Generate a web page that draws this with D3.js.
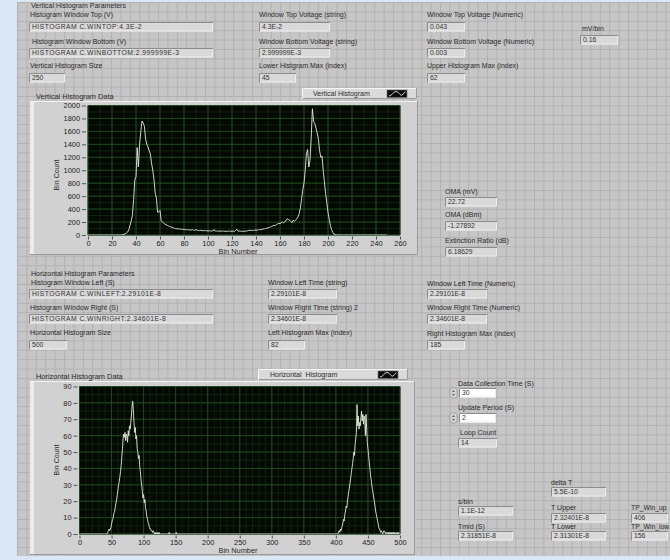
<!DOCTYPE html>
<html>
<head>
<meta charset="utf-8">
<script src="https://cdn.jsdelivr.net/npm/d3@7"></script>
<style>
  html, body { margin: 0; padding: 0; background: #dae7f7; }
  svg { display: block; font-family: "Liberation Sans", Arial, sans-serif; }
</style>
</head>
<body>
<svg id="panel" width="670" height="560"></svg>
<script>
// ---- Vertical histogram: counts per bin (bins 0..249) ----
const verticalBins = [
  0,0,0,0,0,0,0,0,0,0,0,0,0,0,0,0,0,0,0,0,
  0,0,0,0,0,0,0,0,2,4,10,18,30,45,80,150,220,300,550,850,
  900,1350,1050,1400,1600,1760,1730,1680,1480,1400,1360,1300,1250,1100,1000,850,650,570,350,360,
  380,220,200,185,170,160,150,140,130,125,118,110,105,100,95,100,90,92,88,85,
  90,82,80,85,78,80,75,82,76,70,88,72,70,68,75,65,70,66,68,65,
  62,66,64,60,62,85,60,62,58,60,62,58,60,62,58,55,60,58,62,56,
  58,60,55,70,90,60,62,58,60,55,58,62,60,65,70,75,68,72,70,75,
  78,72,80,85,82,88,92,95,100,105,110,115,125,130,140,150,145,160,170,180,
  175,190,200,185,210,220,250,240,230,210,190,230,210,230,250,280,330,420,560,700,
  800,1000,1250,1320,1050,1150,1500,1950,1750,1720,1650,1580,1480,1300,1200,1220,1000,820,640,500,
  350,240,150,80,40,15,6,3,1,0,0,0,0,0,0,0,0,0,0,0,
  0,0,0,0,0,0,0,0,0,0,0,0,0,0,0,0,0,0,0,0,
  0,0,0,0,0,0,0,0,0,0
];
const verticalXTicks = [0,20,40,60,80,100,120,140,160,180,200,220,240,260];
const verticalYTicks = [0,200,400,600,800,1000,1200,1400,1600,1800,2000];

// ---- Horizontal histogram: counts per bin (bins 0..499) ----
const horizontalBins = [
  0,0,0,0,0,0,0,0,0,0,0,0,0,0,0,0,0,0,0,0,
  0,0,0,0,0,0,0,0,0,0,0,0,0,0,0,0,0,0,0,0,
  0,0,0,0,1,2,3,2,3,4,6,8,9,11,13,14,17,19,21,24,
  27,30,32,35,38,42,47,52,58,61,59,62,57,61,60,56,63,60,66,64,
  68,72,78,81,76,68,62,65,58,60,52,50,46,48,41,38,33,30,26,22,
  24,19,21,16,14,11,9,7,6,4,3,3,2,2,1,2,1,0,1,0,
  0,1,0,0,1,0,0,0,0,0,0,0,0,0,0,0,0,0,0,0,
  1,0,0,0,0,0,0,0,0,0,0,1,0,0,0,0,0,0,0,0,
  0,0,0,0,0,0,0,0,0,0,0,0,0,0,0,0,0,0,0,0,
  0,0,0,0,0,0,0,0,0,0,0,0,0,0,0,0,0,0,0,0,
  0,0,0,0,0,0,0,0,0,0,0,0,0,0,0,0,0,0,0,0,
  0,0,0,0,0,0,0,0,0,0,0,0,0,0,0,0,0,0,0,0,
  0,0,0,0,0,0,0,0,0,0,0,0,0,0,0,0,0,0,0,0,
  0,0,0,0,0,0,0,0,0,0,0,0,0,0,0,0,0,0,0,0,
  0,0,0,0,0,0,0,0,0,0,0,0,0,0,0,0,0,0,0,0,
  0,0,0,0,0,0,0,0,0,0,0,0,0,0,0,0,0,0,0,0,
  0,0,0,0,0,0,0,0,0,0,0,0,0,0,0,0,0,0,0,0,
  0,0,0,0,0,0,0,0,0,0,0,0,0,0,0,0,0,0,0,0,
  0,0,0,0,0,0,0,0,0,0,0,0,0,0,0,0,0,0,0,0,
  0,0,0,0,0,0,0,0,0,0,0,0,0,0,0,0,0,0,0,0,
  0,0,0,0,1,2,1,3,2,4,5,7,9,8,12,14,17,16,20,23,
  26,28,31,34,37,40,43,46,50,48,55,58,62,79,66,72,64,68,66,71,
  75,69,73,67,72,70,60,73,64,56,52,48,44,40,36,33,30,27,25,22,
  20,17,14,12,10,8,6,4,3,2,1,2,1,0,1,2,1,1,0,1,
  1,0,1,0,1,0,1,0,1,0,1,0,1,0,0,1,0,1,0,1
];
const horizontalXTicks = [0,50,100,150,200,250,300,350,400,450,500];
const horizontalYTicks = [0,10,20,30,40,50,60,70,80,90];

// ---- front panel indicator readings ----
const vertParamValues = ["HISTOGRAM C.WINTOP:4.3E-2", "HISTOGRAM C.WINBOTTOM:2.999999E-3", "250"];
const vertStringValues = ["4.3E-2", "2.999999E-3", "45"];
const vertNumericValues = ["0.043", "0.003", "62"];
const mvPerBin = "0.16";
const omaValues = ["22.72", "-1.27892", "6.18629"];
const horParamValues = ["HISTOGRAM C.WINLEFT:2.29101E-8", "HISTOGRAM C.WINRIGHT:2.34601E-8", "500"];
const horStringValues = ["2.29101E-8", "2.34601E-8", "82"];
const horNumericValues = ["2.29101E-8", "2.34601E-8", "185"];
const loopValues = ["30", "2", "14"];
const timingValues = { deltaT: "5.5E-10", sPerBin: "1.1E-12", tUpper: "2.32401E-8", tLower: "2.31301E-8", tMid: "2.31851E-8", winUp: "406", winLow: "156" };

const W = 670, H = 560;
const svg = d3.select("#panel");
const defs = svg.append("defs");

// panel background with its alignment grid
const grid = defs.append("pattern").attr("id", "panelGrid")
  .attr("patternUnits", "userSpaceOnUse").attr("x", 17).attr("y", 2)
  .attr("width", 9.4).attr("height", 9.4);
grid.append("rect").attr("width", 9.4).attr("height", 9.4).attr("fill", "#c6c6c6");
grid.append("path").attr("d", "M0,0.5H9.4M0.5,0V9.4")
  .attr("stroke", "#b2b2b2").attr("stroke-width", 1).attr("fill", "none");

svg.append("rect").attr("width", W).attr("height", H).attr("fill", "#dae7f7");
svg.append("rect").attr("x", 17).attr("y", 2).attr("width", W - 17).attr("height", 554)
  .attr("fill", "url(#panelGrid)");

const txtColor = "#2a2a2a";

function label(x, y, s, size) {
  svg.append("text").attr("x", x).attr("y", y + 2.4)
    .attr("font-size", size || 7).attr("fill", txtColor).text(s);
}

function box(x, y, w, value, opts) {
  opts = opts || {};
  const h = 9.5;
  const g = svg.append("g");
  g.append("rect").attr("x", x).attr("y", y).attr("width", w).attr("height", h)
    .attr("fill", opts.white ? "#ffffff" : "#d9d9d9");
  // inset edges
  g.append("path").attr("d", `M${x + 0.5},${y + h}V${y + 0.5}H${x + w}`)
    .attr("stroke", "#8c8c8c").attr("fill", "none");
  g.append("path").attr("d", `M${x + 1},${y + h - 0.5}H${x + w - 0.5}V${y + 1}`)
    .attr("stroke", "#eeeeee").attr("fill", "none");
  g.append("text").attr("x", x + 3).attr("y", y + 7.2)
    .attr("font-size", 6.8).attr("fill", "#333")
    .attr("letter-spacing", /[A-Z]{4}/.test(value) ? 0.45 : 0)
    .text(value);
}

function spinner(x, y) {
  const g = svg.append("g");
  g.append("rect").attr("x", x).attr("y", y).attr("width", 7).attr("height", 10).attr("rx", 2.5)
    .attr("fill", "#d4d4d4").attr("stroke", "#8a8a8a").attr("stroke-width", 0.6);
  g.append("path").attr("d", `M${x + 2},${y + 4}L${x + 3.5},${y + 2}L${x + 5},${y + 4}Z`).attr("fill", "#666");
  g.append("path").attr("d", `M${x + 2},${y + 6}L${x + 3.5},${y + 8}L${x + 5},${y + 6}Z`).attr("fill", "#666");
}

// ---- vertical histogram parameter block ----
label(31, 6, "Vertical Histogram Parameters");
label(30, 15, "Histogram Window Top (V)");
box(29, 22, 184, vertParamValues[0]);
label(32, 42, "Histogram Window Bottom (V)");
box(29, 48, 184, vertParamValues[1]);
label(30, 66, "Vertical Histogram Size");
box(29, 73, 36, vertParamValues[2]);

label(259, 15, "Window Top Voltage (string)");
box(259, 22, 71, vertStringValues[0]);
label(259, 42, "Window Bottom Voltage (string)");
box(259, 48, 71, vertStringValues[1]);
label(259, 66, "Lower Histgram Max (index)");
box(259, 73, 37, vertStringValues[2]);

label(427, 15, "Window Top Voltage (Numeric)");
box(427, 22, 38, vertNumericValues[0]);
label(427, 42, "Window Bottom Voltage (Numeric)");
box(427, 48, 38, vertNumericValues[1]);
label(427, 66, "Upper Histogram Max (index)");
box(427, 73, 38, vertNumericValues[2]);

label(582, 29, "mV/bin");
box(580, 35, 38, mvPerBin);

label(445, 192, "OMA (mV)");
box(445, 197, 52, omaValues[0]);
label(445, 215, "OMA (dBm)");
box(445, 221, 52, omaValues[1]);
label(445, 241, "Extinction Ratio (dB)");
box(445, 247, 52, omaValues[2]);

// ---- horizontal histogram parameter block ----
label(31, 274, "Horizontal Histogram Parameters");
label(31, 283, "Histogram Window Left (S)");
box(29, 289, 184, horParamValues[0]);
label(30, 308, "Histogram Window Right (S)");
box(29, 314, 184, horParamValues[1]);
label(30, 333, "Horizontal Histogram Size");
box(29, 340, 38, horParamValues[2]);

label(268, 283, "Window Left Time (string)");
box(268, 289, 69, horStringValues[0]);
label(268, 308, "Window Right Time (string) 2");
box(268, 314, 69, horStringValues[1]);
label(268, 333, "Left Histogram Max (index)");
box(268, 340, 37, horStringValues[2]);

label(427, 284, "Window Left Time (Numeric)");
box(427, 289, 60, horNumericValues[0]);
label(427, 308, "Window Right Time (Numeric)");
box(427, 314, 60, horNumericValues[1]);
label(427, 334, "Right Histogram Max (index)");
box(427, 340, 38, horNumericValues[2]);

// ---- acquisition controls ----
label(458, 384, "Data Collection Time (S)");
spinner(450, 388);
box(459, 388, 37, loopValues[0], { white: true });
label(458, 408, "Update Period (S)");
spinner(450, 413);
box(459, 413, 37, loopValues[1], { white: true });
label(460, 433, "Loop Count");
box(458, 438, 39, loopValues[2]);

label(551, 483, "delta T");
box(551, 487, 55, timingValues.deltaT);
label(458, 502, "s/bin");
box(458, 506, 55, timingValues.sPerBin);
label(551, 508, "T Upper");
box(551, 513, 55, timingValues.tUpper);
label(631, 508, "TP_Win_up", 6.8);
box(631, 513, 37, timingValues.winUp);
label(458, 527, "Tmid (S)");
box(458, 531, 55, timingValues.tMid);
label(551, 527, "T Lower");
box(551, 531, 55, timingValues.tLower);
label(631, 527, "TP_Win_low", 6.8);
box(631, 531, 37, timingValues.winLow);

// ---- waveform graph ----
function graph(cfg) {
  const g = svg.append("g");
  const f = cfg.frame;
  // graph frame with raised edges
  g.append("rect").attr("x", f.x).attr("y", f.y).attr("width", f.w).attr("height", f.h).attr("fill", "#d1d1d1");
  g.append("rect").attr("x", f.x).attr("y", f.y).attr("width", 4).attr("height", f.h).attr("fill", "#ececec");
  g.append("path").attr("d", `M${f.x},${f.y + 0.5}H${f.x + f.w}`).attr("stroke", "#f2f2f2").attr("fill", "none");
  g.append("path").attr("d", `M${f.x},${f.y + f.h - 0.5}H${f.x + f.w - 0.5}V${f.y}`).attr("stroke", "#9a9a9a").attr("fill", "none");

  // caption
  g.append("text").attr("x", cfg.title.x).attr("y", cfg.title.y + 2.6)
    .attr("font-size", 7.4).attr("fill", txtColor).text(cfg.title.text);

  // plot legend
  const L = cfg.legend;
  g.append("rect").attr("x", L.x).attr("y", L.y).attr("width", L.w).attr("height", 11).attr("fill", "#dadada");
  g.append("path").attr("d", `M${L.x + 0.5},${L.y + 11}V${L.y + 0.5}H${L.x + L.w}`).attr("stroke", "#f6f6f6").attr("fill", "none");
  g.append("path").attr("d", `M${L.x + 1},${L.y + 10.5}H${L.x + L.w - 0.5}V${L.y}`).attr("stroke", "#9c9c9c").attr("fill", "none");
  g.append("text").attr("x", L.tx).attr("y", L.y + 8).attr("font-size", 7).attr("fill", txtColor)
    .attr("xml:space", "preserve").text(L.text);
  const ix = L.x + L.w - 30, iy = L.y + 2;
  g.append("rect").attr("x", ix).attr("y", iy).attr("width", 20).attr("height", 7.5)
    .attr("fill", "#0c0c0c").attr("stroke", "#6a6a6a").attr("stroke-width", 0.6);
  g.append("path").attr("d", `M${ix + 2},${iy + 6} C${ix + 5},${iy + 6} ${ix + 6},${iy + 1.5} ${ix + 9},${iy + 1.5} S${ix + 13},${iy + 6} ${ix + 15},${iy + 5} S${ix + 17},${iy + 2} ${ix + 18.5},${iy + 2}`)
    .attr("stroke", "#e8e8e8").attr("stroke-width", 0.9).attr("fill", "none");

  const p = cfg.plot;
  const x = d3.scaleLinear().domain(cfg.xDomain).range([p.x0, p.x1]);
  const y = d3.scaleLinear().domain(cfg.yDomain).range([p.y1, p.y0]);

  g.append("rect").attr("x", p.x0).attr("y", p.y0).attr("width", p.x1 - p.x0).attr("height", p.y1 - p.y0)
    .attr("fill", "#040904");

  // minor then major grid
  const minorX = d3.range(cfg.xDomain[0], cfg.xDomain[1] + 1e-9, cfg.xMinor);
  const minorY = d3.range(cfg.yDomain[0], cfg.yDomain[1] + 1e-9, cfg.yMinor);
  g.append("g").selectAll("line").data(minorX).join("line")
    .attr("x1", d => x(d)).attr("x2", d => x(d)).attr("y1", p.y0).attr("y2", p.y1)
    .attr("stroke", "#112a11").attr("stroke-width", 0.8);
  g.append("g").selectAll("line").data(minorY).join("line")
    .attr("x1", p.x0).attr("x2", p.x1).attr("y1", d => y(d)).attr("y2", d => y(d))
    .attr("stroke", "#112a11").attr("stroke-width", 0.8);
  g.append("g").selectAll("line").data(cfg.xTicks).join("line")
    .attr("x1", d => x(d)).attr("x2", d => x(d)).attr("y1", p.y0).attr("y2", p.y1)
    .attr("stroke", "#1f4d1f").attr("stroke-width", 0.9);
  g.append("g").selectAll("line").data(cfg.yTicks).join("line")
    .attr("x1", p.x0).attr("x2", p.x1).attr("y1", d => y(d)).attr("y2", d => y(d))
    .attr("stroke", "#1f4d1f").attr("stroke-width", 0.9);

  // trace
  const clipId = cfg.id + "-clip";
  defs.append("clipPath").attr("id", clipId).append("rect")
    .attr("x", p.x0).attr("y", p.y0 - 1).attr("width", p.x1 - p.x0).attr("height", p.y1 - p.y0 + 1);
  const line = d3.line().x((d, i) => x(i)).y(d => y(d));
  g.append("path").datum(cfg.data).attr("d", line).attr("clip-path", `url(#${clipId})`)
    .attr("fill", "none").attr("stroke", "#e4ebdc").attr("stroke-width", 0.9).attr("stroke-linejoin", "round");

  // scales
  const yAxis = g.append("g").attr("transform", `translate(${p.x0 - 2},0)`)
    .call(d3.axisLeft(y).tickValues(cfg.yTicks).tickSize(4).tickPadding(2).tickFormat(d3.format("d")));
  const xAxis = g.append("g").attr("transform", `translate(0,${p.y1 + 1.5})`)
    .call(d3.axisBottom(x).tickValues(cfg.xTicks).tickSize(3).tickPadding(1).tickFormat(d3.format("d")));
  [yAxis, xAxis].forEach(a => {
    a.select(".domain").remove();
    a.selectAll(".tick line").attr("stroke", "#333").attr("stroke-width", 0.8);
    a.selectAll(".tick text").attr("fill", "#222").attr("font-size", 7.4)
      .attr("font-family", "'Liberation Sans', Arial, sans-serif");
  });

  g.append("text").attr("transform", `translate(${cfg.yLabel.x},${cfg.yLabel.y}) rotate(-90)`)
    .attr("text-anchor", "middle").attr("dy", "0.35em").attr("font-size", 7).attr("fill", txtColor)
    .text("Bin Count");
  g.append("text").attr("x", cfg.xLabel.x).attr("y", cfg.xLabel.y).attr("dy", "0.35em")
    .attr("text-anchor", "middle").attr("font-size", 7.4).attr("fill", txtColor)
    .text("Bin Number");
}

graph({
  id: "vert",
  frame: { x: 30, y: 101, w: 388, h: 154 },
  title: { x: 36, y: 96, text: "Vertical Histogram Data" },
  legend: { x: 302, y: 88, w: 115, tx: 313, text: "Vertical Histogram" },
  plot: { x0: 88, x1: 400, y0: 105.5, y1: 235 },
  xDomain: [0, 260], yDomain: [0, 2000],
  xTicks: verticalXTicks, yTicks: verticalYTicks, xMinor: 10, yMinor: 100,
  data: verticalBins,
  yLabel: { x: 57, y: 175 }, xLabel: { x: 238, y: 251 }
});

graph({
  id: "hor",
  frame: { x: 30, y: 381, w: 385, h: 174 },
  title: { x: 36, y: 376, text: "Horizontal Histogram Data" },
  legend: { x: 258, y: 369, w: 150, tx: 270, text: "Horizontal  Histogram" },
  plot: { x0: 79.5, x1: 400, y0: 386.5, y1: 534 },
  xDomain: [0, 500], yDomain: [0, 90],
  xTicks: horizontalXTicks, yTicks: horizontalYTicks, xMinor: 10, yMinor: 5,
  data: horizontalBins,
  yLabel: { x: 57, y: 460 }, xLabel: { x: 238, y: 550 }
});
</script>
</body>
</html>
